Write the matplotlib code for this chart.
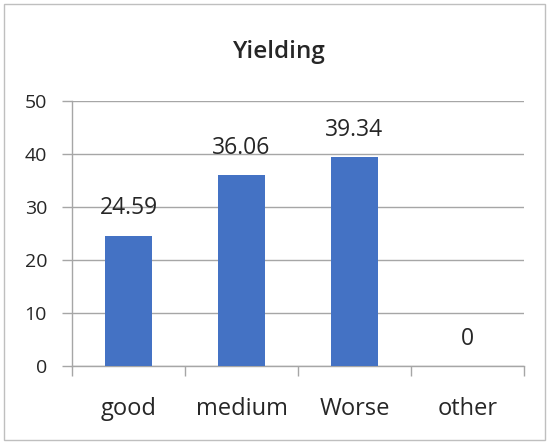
import matplotlib.pyplot as plt
from matplotlib.patches import Rectangle

categories = ["good", "medium", "Worse", "other"]
values = [24.59, 36.06, 39.34, 0]
value_labels = ["24.59", "36.06", "39.34", "0"]
title = "Yielding"

plt.rcParams["font.family"] = ["Open Sans", "DejaVu Sans"]
text_color = "#262626"
line_color = "#a6a6a6"

fig = plt.figure(figsize=(5.48, 4.42), dpi=100)
ax = fig.add_axes([0.1314, 0.172, 0.8246, 0.5995])

x = list(range(len(categories)))
ax.bar(x, values, width=0.41, color="#4472C4", zorder=3)
for xi, v, lab in zip(x, values, value_labels):
    ax.annotate(lab, (xi, v), xytext=(0, 11), textcoords="offset points",
                ha="center", va="bottom", fontsize=16.5, color=text_color)

ax.set_xlim(-0.5, 3.5)
ax.set_ylim(0, 50)
ax.set_yticks(range(0, 51, 10))
ax.yaxis.grid(True, color=line_color, linewidth=1, zorder=0)
ax.set_xticks(x)
ax.set_xticklabels(categories)
ax.set_xticks([-0.5, 0.5, 1.5, 2.5, 3.5], minor=True)
ax.tick_params(axis="x", which="major", length=0, pad=22, labelsize=17, labelcolor=text_color)
ax.tick_params(axis="x", which="minor", length=7, width=1, color=line_color)
ax.tick_params(axis="y", length=7, width=1, color=line_color, pad=11,
               labelsize=14, labelcolor=text_color)

for side in ["top", "right"]:
    ax.spines[side].set_visible(False)
for side in ["left", "bottom"]:
    ax.spines[side].set_color(line_color)
    ax.spines[side].set_linewidth(1)

fig.text(0.51, 0.882, title, ha="center", va="center", fontsize=17.5,
         fontweight="semibold", color=text_color)

fig.patches.append(Rectangle((0.007, 0.004), 0.988, 0.987, transform=fig.transFigure,
                             fill=False, edgecolor="#bfbfbf", linewidth=1))

fig.savefig("out.png", dpi=100)
